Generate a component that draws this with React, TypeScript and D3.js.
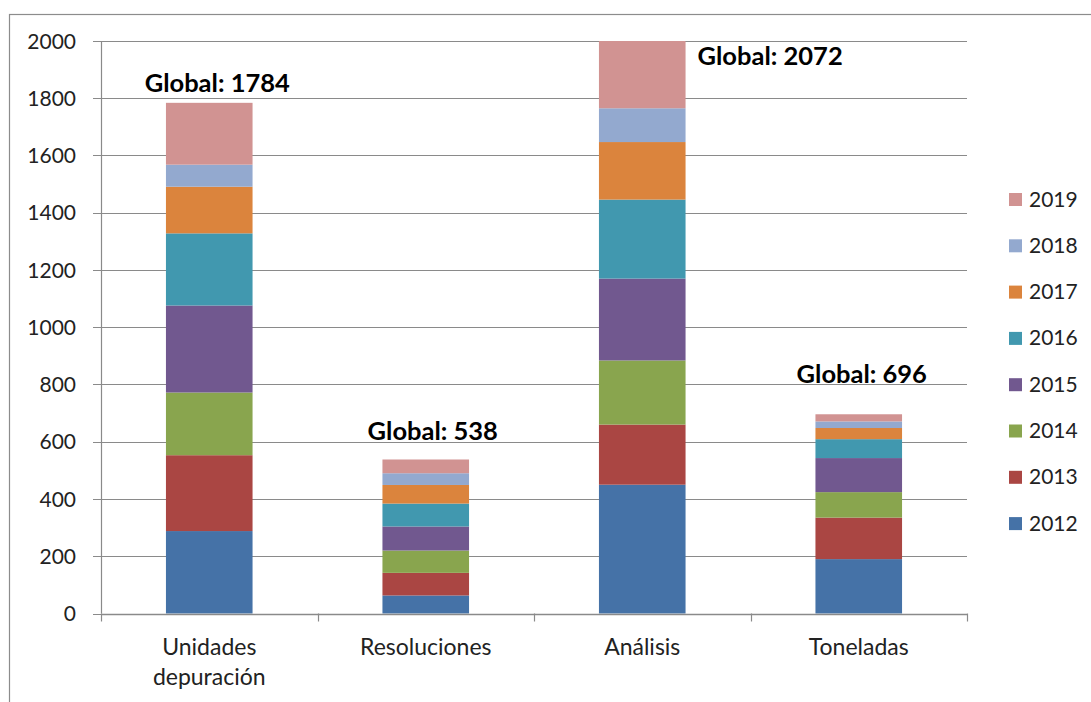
import React, { useEffect, useRef } from 'react';
import * as d3 from 'd3';

// categories (x axis)
const categories = ['Unidades depuración', 'Resoluciones', 'Análisis', 'Toneladas'];
const categoryLines = [['Unidades', 'depuración'], ['Resoluciones'], ['Análisis'], ['Toneladas']];

// series, one per year, values per category
const years = ['2012', '2013', '2014', '2015', '2016', '2017', '2018', '2019'];
const s2012 = [288, 63, 450, 190];
const s2013 = [265, 79, 210, 145];
const s2014 = [219, 78, 224, 89];
const s2015 = [304, 84, 286, 119];
const s2016 = [252, 80, 276, 66];
const s2017 = [163, 65, 201, 39];
const s2018 = [77, 41, 118, 23];
const s2019 = [216, 48, 307, 25];
const series = [s2012, s2013, s2014, s2015, s2016, s2017, s2018, s2019];

const yTicks = [0, 200, 400, 600, 800, 1000, 1200, 1400, 1600, 1800, 2000];

const colors = ['#4572A7', '#AA4643', '#89A54E', '#71588F', '#4198AF', '#DB843D', '#93A9CF', '#D19392'];

const FONT = 'Lato, "Liberation Sans", sans-serif';

const App = () => {
  const ref = useRef<SVGSVGElement | null>(null);

  useEffect(() => {
    const svg = d3.select(ref.current);
    svg.selectAll('*').remove();

    const left = 101, right = 967, top = 41, bottom = 613.5;

    const x = d3.scaleBand<string>()
      .domain(categories)
      .range([left, right])
      .paddingInner(0.6)
      .paddingOuter(0.3);

    const y = d3.scaleLinear()
      .domain([0, 2000])
      .range([bottom, top])
      .clamp(true);

    const rows = categories.map((c, i) => {
      const r: any = { cat: c };
      years.forEach((yr, j) => { r[yr] = series[j][i]; });
      return r;
    });
    const stacked = d3.stack().keys(years)(rows);
    const totals = categories.map((c, i) => d3.sum(series, s => s[i]));

    // outer frame
    svg.append('rect')
      .attr('x', 9.5).attr('y', 14.5)
      .attr('width', 1100).attr('height', 720)
      .attr('fill', 'none').attr('stroke', '#8c8c8c').attr('stroke-width', 1.2);

    // gridlines + left ticks
    svg.append('g')
      .selectAll('line')
      .data(yTicks)
      .enter().append('line')
      .attr('x1', left - 8).attr('x2', right)
      .attr('y1', d => Math.round(y(d)) + 0.5)
      .attr('y2', d => Math.round(y(d)) + 0.5)
      .attr('stroke', '#8a8a8a').attr('stroke-width', 1.2);

    svg.append('g')
      .selectAll('text')
      .data(yTicks)
      .enter().append('text')
      .attr('x', 76).attr('y', d => y(d))
      .attr('dy', '0.36em')
      .attr('text-anchor', 'end')
      .attr('font-family', FONT).attr('font-size', 21).attr('fill', '#222')
      .text(d => d);

    // bars
    svg.append('g')
      .selectAll('g')
      .data(stacked)
      .enter().append('g')
      .attr('fill', (d, i) => colors[i])
      .selectAll('rect')
      .data(d => d)
      .enter().append('rect')
      .attr('x', (d: any) => x(d.data.cat) as number)
      .attr('y', d => y(d[1]))
      .attr('width', x.bandwidth())
      .attr('height', d => y(d[0]) - y(d[1]));

    // axes lines
    svg.append('line')
      .attr('x1', left + 0.5).attr('x2', left + 0.5)
      .attr('y1', top).attr('y2', bottom)
      .attr('stroke', '#8a8a8a').attr('stroke-width', 1.2);
    svg.append('line')
      .attr('x1', left).attr('x2', right)
      .attr('y1', Math.round(bottom) + 0.5).attr('y2', Math.round(bottom) + 0.5)
      .attr('stroke', '#8a8a8a').attr('stroke-width', 1.5);

    const step = x.step();
    const bounds = d3.range(categories.length + 1).map(i => left + i * step);
    svg.append('g')
      .selectAll('line')
      .data(bounds)
      .enter().append('line')
      .attr('x1', d => Math.round(d) + 0.5).attr('x2', d => Math.round(d) + 0.5)
      .attr('y1', bottom).attr('y2', bottom + 8)
      .attr('stroke', '#8a8a8a').attr('stroke-width', 1.2);

    // category labels
    categories.forEach((c, i) => {
      const cx = (x(c) as number) + x.bandwidth() / 2;
      categoryLines[i].forEach((line, k) => {
        svg.append('text')
          .attr('x', cx).attr('y', 655 + k * 30)
          .attr('text-anchor', 'middle')
          .attr('font-family', FONT).attr('font-size', 23).attr('fill', '#222')
          .text(line);
      });
    });

    // "Global" labels
    const labelPos = [
      { dx: 8, dy: -11, anchor: 'middle' },
      { dx: 7, dy: -19, anchor: 'middle' },
      { dx: 0, dy: 0, anchor: 'start' },
      { dx: 3, dy: -31, anchor: 'middle' },
    ];
    categories.forEach((c, i) => {
      const p = labelPos[i];
      const bx = x(c) as number;
      let tx = bx + x.bandwidth() / 2 + p.dx;
      let ty = y(totals[i]) + p.dy;
      if (p.anchor === 'start') {
        tx = bx + x.bandwidth() + 12;
        ty = y(2000) + 24;
      }
      svg.append('text')
        .attr('x', tx).attr('y', ty)
        .attr('text-anchor', p.anchor)
        .attr('font-family', FONT).attr('font-size', 25.5).attr('font-weight', 'bold')
        .attr('fill', '#000')
        .text(`Global: ${totals[i]}`);
    });

    // legend
    const legend = svg.append('g')
      .selectAll('g')
      .data(years.slice().reverse())
      .enter().append('g')
      .attr('transform', (d, i) => `translate(1009,${199 + i * 46.3})`);

    legend.append('rect')
      .attr('x', 0).attr('y', -6)
      .attr('width', 13).attr('height', 13)
      .attr('fill', d => colors[years.indexOf(d)]);

    legend.append('text')
      .attr('x', 20).attr('y', 0)
      .attr('dy', '0.36em')
      .attr('font-family', FONT).attr('font-size', 21).attr('fill', '#222')
      .text(d => d);
  }, []);

  return (
    <svg
      ref={ref}
      width={1091}
      height={702}
      style={{ position: 'absolute', left: 0, top: 0, background: '#fff' }}
    />
  );
};

export default App;
